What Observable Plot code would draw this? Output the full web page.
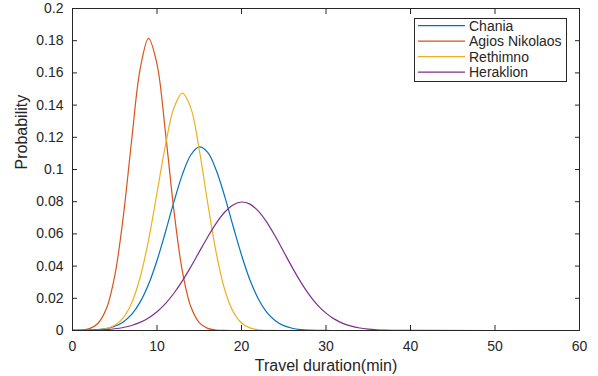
<!DOCTYPE html>
<html>
<head>
<meta charset="utf-8">
<script src="https://cdn.jsdelivr.net/npm/d3@7"></script>
<script src="https://cdn.jsdelivr.net/npm/@observablehq/plot@0.6"></script>
<style>
  html, body { margin: 0; padding: 0; background: #ffffff; }
  #wrap { position: relative; width: 598px; height: 376px; font-family: "Liberation Sans", Arial, Helvetica, sans-serif; }
  #wrap svg { position: absolute; left: 0; top: 0; }
</style>
</head>
<body>
<div id="wrap"></div>
<script>
// ---- data ----
const minutes = [0,1,2,3,4,5,6,7,8,9,10,11,12,13,14,15,16,17,18,19,20,21,22,23,24,25,26,27,28,29,30,31,32,33,34,35,36,37,38,39,40,60];

const chania = [0.00002,0.00007,0.0002,0.0005,0.00119,0.0026,0.0053,0.0100,0.0176,0.0287,0.0435,0.0612,0.0799,0.0968,0.1090,0.1140,0.1106,0.0997,0.0835,0.0649,0.0469,0.0314,0.0196,0.0113,0.0061,0.0030,0.0014,0.0006,0.00024,0.00009,0.00003,0,0,0,0,0,0,0,0,0,0,0];

const agiosNikolaos = [0.00004,0.00024,0.00114,0.00433,0.01345,0.0340,0.0703,0.1182,0.1622,0.1815,0.1655,0.1231,0.0747,0.0369,0.0149,0.0049,0.00131,0.00029,0.00005,0,0,0,0,0,0,0,0,0,0,0,0,0,0,0,0,0,0,0,0,0,0,0];

const rethimno = [0.00001,0.00003,0.00011,0.00039,0.00119,0.00326,0.0079,0.0171,0.0329,0.0562,0.0854,0.1152,0.1382,0.1475,0.1383,0.1124,0.0792,0.0484,0.0256,0.0118,0.0047,0.0016,0.00048,0.00013,0.00003,0,0,0,0,0,0,0,0,0,0,0,0,0,0,0,0,0];

const heraklion = [0.00004,0.00008,0.00017,0.00032,0.0006,0.00108,0.00188,0.00313,0.00504,0.0078,0.01164,0.01673,0.02314,0.03083,0.03955,0.04885,0.05811,0.06657,0.07343,0.0780,0.0798,0.0785,0.0741,0.0672,0.0585,0.0489,0.0392,0.0302,0.0223,0.0158,0.0108,0.00706,0.00443,0.00267,0.00155,0.00086,0.00046,0.00023,0.00012,0.00005,0.00002,0];

const seriesNames = ["Chania", "Agios Nikolaos", "Rethimno", "Heraklion"];
const seriesColors = ["#0072BD", "#D95319", "#EDB120", "#7E2F8E"];

const xTicks = [0, 10, 20, 30, 40, 50, 60];
const yTicks = [0, 0.02, 0.04, 0.06, 0.08, 0.1, 0.12, 0.14, 0.16, 0.18, 0.2];
const yTickLabels = ["0", "0.02", "0.04", "0.06", "0.08", "0.1", "0.12", "0.14", "0.16", "0.18", "0.2"];
const xLabel = "Travel duration(min)";
const yLabel = "Probability";

// ---- build table ----
const seriesValues = [chania, agiosNikolaos, rethimno, heraklion];
const rows = [];
seriesValues.forEach((vals, s) => {
  vals.forEach((v, i) => rows.push({city: seriesNames[s], minute: minutes[i], p: v}));
});

const axisColor = "#262626";

const lineMarks = seriesNames.map((name, s) =>
  Plot.line(rows.filter(r => r.city === name), {
    x: "minute", y: "p", stroke: seriesColors[s], strokeWidth: 1.2, curve: "catmull-rom"
  })
);

const chart = Plot.plot({
  width: 598,
  height: 376,
  marginLeft: 72,
  marginRight: 19,
  marginTop: 8,
  marginBottom: 46,
  x: {domain: [0, 60]},
  y: {domain: [0, 0.2]},
  style: {fontFamily: "'Liberation Sans', Arial, Helvetica, sans-serif", fontSize: "14px", color: axisColor, background: "white", overflow: "visible"},
  marks: [
    ...lineMarks,
    Plot.frame({stroke: axisColor, strokeWidth: 1}),
    // tick labels
    Plot.axisX({ticks: xTicks, tickSize: 0, tickPadding: 11, tickFormat: d => String(d), label: null, fill: axisColor}),
    Plot.axisY({ticks: yTicks, tickSize: 0, tickPadding: 9, tickFormat: (d, i) => yTickLabels[i], label: null, fill: axisColor}),
    // inward ticks on all four sides
    Plot.axisX({anchor: "bottom", ticks: xTicks, tickSize: -5, tickFormat: () => "", label: null, stroke: axisColor}),
    Plot.axisX({anchor: "top", ticks: xTicks, tickSize: -5, tickFormat: () => "", label: null, stroke: axisColor}),
    Plot.axisY({anchor: "left", ticks: yTicks, tickSize: -5, tickFormat: () => "", label: null, stroke: axisColor}),
    Plot.axisY({anchor: "right", ticks: yTicks, tickSize: -5, tickFormat: () => "", label: null, stroke: axisColor}),
    // axis titles
    Plot.text([xLabel], {frameAnchor: "bottom", dy: 35, lineAnchor: "middle", fontSize: 16, fill: axisColor}),
    Plot.text([yLabel], {frameAnchor: "left", dx: -51, rotate: -90, lineAnchor: "middle", fontSize: 16, fill: axisColor})
  ]
});

const wrap = document.getElementById("wrap");
wrap.appendChild(chart);

// legend (box inside the plot area, upper right)
const NS = "http://www.w3.org/2000/svg";
const leg = document.createElementNS(NS, "svg");
leg.setAttribute("width", 598);
leg.setAttribute("height", 376);
leg.style.pointerEvents = "none";
const box = document.createElementNS(NS, "rect");
box.setAttribute("x", 414.5); box.setAttribute("y", 18.5);
box.setAttribute("width", 152); box.setAttribute("height", 63);
box.setAttribute("fill", "#ffffff"); box.setAttribute("stroke", axisColor); box.setAttribute("stroke-width", 1);
leg.appendChild(box);
seriesNames.forEach((name, i) => {
  const cy = 25.7 + 15.5 * i;
  const l = document.createElementNS(NS, "line");
  l.setAttribute("x1", 418); l.setAttribute("x2", 465);
  l.setAttribute("y1", cy); l.setAttribute("y2", cy);
  l.setAttribute("stroke", seriesColors[i]); l.setAttribute("stroke-width", 1.2);
  leg.appendChild(l);
  const t = document.createElementNS(NS, "text");
  t.setAttribute("x", 469); t.setAttribute("y", cy + 5);
  t.setAttribute("font-size", 14);
  t.setAttribute("font-family", "'Liberation Sans', Arial, Helvetica, sans-serif");
  t.setAttribute("fill", axisColor);
  t.textContent = name;
  leg.appendChild(t);
});
wrap.appendChild(leg);
</script>
</body>
</html>
